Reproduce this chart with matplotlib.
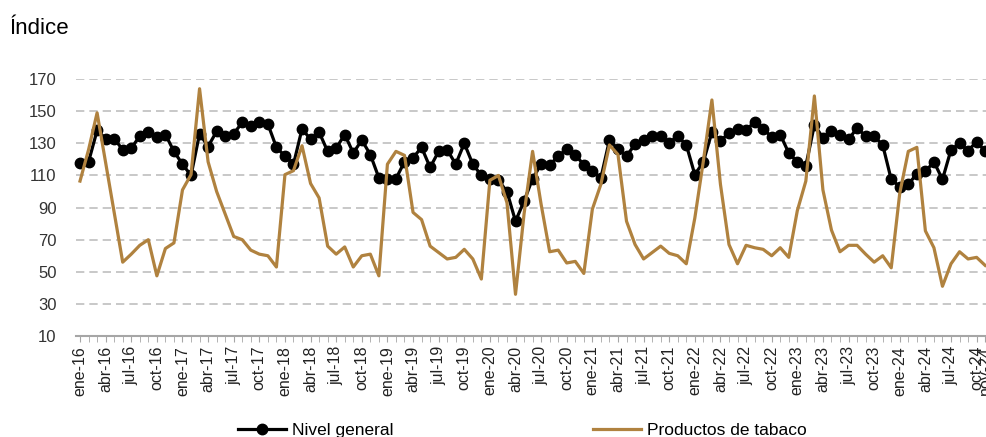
import matplotlib
matplotlib.use("Agg")
from matplotlib import pyplot as plt
from matplotlib.lines import Line2D

plt.rcParams["font.family"] = ["Liberation Sans", "DejaVu Sans"]

# Mensual, ene-16 a nov-24
meses = ["ene", "feb", "mar", "abr", "may", "jun",
         "jul", "ago", "sep", "oct", "nov", "dic"]
fechas = [f"{m}-{a}" for a in range(16, 25) for m in meses][:107]

nivel_general = [
    118, 118.5, 138, 133, 133, 126, 127, 134.5, 137, 134, 135.5, 125,
    117, 110, 136, 128, 137.5, 134.5, 136, 143, 140.5, 143.5, 142, 127.5,
    122, 117, 139, 132.5, 137, 125, 127, 135.5, 124, 132, 123, 108.5,
    107.5, 108, 118.5, 121, 127.5, 115, 125, 126, 117, 130, 117, 110,
    107.5, 107, 100, 81.5, 94, 108, 117, 116.5, 122, 126.5, 123, 116.5,
    112.5, 108.5, 132, 126.5, 122, 129.5, 132, 134.5, 134.5, 130.5, 134.5, 129,
    110.5, 118.5, 137, 131.5, 136.5, 139, 138, 143.5, 139, 134, 135.5, 124,
    118.5, 116, 141.5, 133.5, 137.5, 135.5, 132.5, 139.5, 134.5, 134.5, 129, 107.5,
    103, 104.5, 111, 112.5, 118.5, 107.5, 126, 130, 125.5, 131, 125,
]

productos_tabaco = [
    106.5, 126, 149, 118, 87, 56, 61, 66.5, 70, 47.5, 64.5, 68,
    101, 110.5, 164, 118.5, 100, 86, 72, 70, 63.5, 61, 60, 53,
    110.5, 113, 128.5, 105, 96, 66, 61, 65.5, 53, 60, 61, 47.5,
    117, 125, 122.5, 87, 82.5, 66, 62, 58, 59, 64, 58, 45.5,
    107, 110, 93, 36, 86, 125, 92, 62.5, 63.5, 55.5, 56.5, 49,
    89, 104.5, 129, 123, 81.5, 67, 58, 62, 66, 61.5, 60, 55,
    83.5, 119, 157, 104.5, 67, 55, 66.5, 65, 64, 60, 65, 59,
    88, 106.5, 159.5, 101, 76, 62.5, 66.5, 66.5, 61, 56, 60, 52.5,
    99, 125, 127.5, 75.5, 65, 41, 55, 62.5, 58, 59, 54,
]

yticks = [10, 30, 50, 70, 90, 110, 130, 150, 170]

color_tabaco = "#B0823F"
gris = "#A6A6A6"

fig = plt.figure(figsize=(9.87, 4.37), dpi=100)
ax = fig.add_axes([0.077, 0.231, 0.922, 0.588])

x = list(range(len(fechas)))
ax.plot(x, nivel_general, color="black", lw=2.3, marker="o", ms=7.5,
        zorder=3, clip_on=False)
ax.plot(x, productos_tabaco, color=color_tabaco, lw=2.3, zorder=4,
        clip_on=False)

ax.set_ylim(10, 170)
ax.set_xlim(-0.47, 106.1)
ax.set_yticks(yticks)
ax.tick_params(axis="y", length=0, labelsize=12, pad=14, colors="#333333")
ax.yaxis.grid(True, color="#BFBFBF", lw=1.2, dashes=(5, 3))
ax.set_axisbelow(True)

lbl_pos = list(range(0, len(fechas), 3)) + [len(fechas) - 1]
ax.set_xticks(x, minor=True)
ax.set_xticks(lbl_pos)
ax.set_xticklabels([fechas[i] for i in lbl_pos], rotation=90,
                   fontsize=11.5, color="#222222")
ax.tick_params(axis="x", which="both", length=4, color=gris, pad=3)

for s in ["top", "right", "left"]:
    ax.spines[s].set_visible(False)
ax.spines["bottom"].set_color(gris)
ax.spines["bottom"].set_linewidth(1.5)

fig.text(0.01, 0.935, "Índice", fontsize=16, ha="left", va="center")

handles = [
    Line2D([], [], color="black", lw=2.3, marker="o", ms=7.5,
           markevery=[1], label="Nivel general"),
    Line2D([], [], color=color_tabaco, lw=2.3, label="Productos de tabaco"),
]
handles[0].set_data([0, 1, 2], [0, 0, 0])
fig.legend(handles=handles, loc="center", bbox_to_anchor=(0.529, 0.016),
           ncol=2, frameon=False, fontsize=12.5, handlelength=2.8,
           handletextpad=0.3, columnspacing=11.5, borderpad=0)

fig.savefig("out.png", dpi=100)
